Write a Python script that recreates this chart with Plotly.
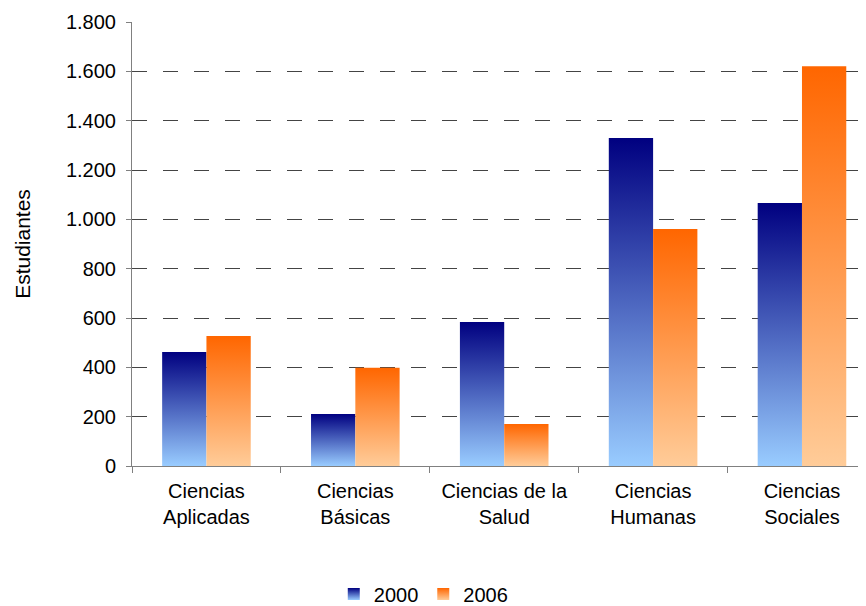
import plotly.graph_objects as go

categories = ["Ciencias<br>Aplicadas", "Ciencias<br>Básicas", "Ciencias de la<br>Salud",
              "Ciencias<br>Humanas", "Ciencias<br>Sociales"]
series_names = ["2000", "2006"]
values_2000 = [462, 211, 584, 1330, 1066]
values_2006 = [527, 398, 170, 961, 1621]
y_ticks = [0, 200, 400, 600, 800, 1000, 1200, 1400, 1600, 1800]

series = [
    ("2000", values_2000, "#000080", "#99CCFF"),
    ("2006", values_2006, "#FF6600", "#FFCC99"),
]

bargap = 0.405
bar_w = (1 - bargap) / 2

fig = go.Figure()
for j, (name, vals, top_c, bot_c) in enumerate(series):
    for i, v in enumerate(vals):
        x0 = i - 0.5 + bargap / 2 + j * bar_w
        x1 = x0 + bar_w
        fig.add_trace(go.Scatter(
            x=[x0, x0, x1, x1, x0], y=[0, v, v, 0, 0],
            mode="none", fill="toself",
            fillgradient=dict(type="vertical", colorscale=[[0, bot_c], [1, top_c]]),
            showlegend=False, hoverinfo="skip",
        ))
    fig.add_trace(go.Scatter(
        x=[None], y=[None], mode="markers", name=name,
        marker=dict(symbol="square", size=12, color=top_c,
                    gradient=dict(type="vertical", color=bot_c)),
    ))

# page body has an 8px margin, so the figure is sized/placed to compensate
fig.update_layout(
    width=858, height=598,
    paper_bgcolor="white", plot_bgcolor="white",
    margin=dict(l=124, r=0, t=14, b=140, autoexpand=False),
    separators=",.",
    font=dict(family="Liberation Sans, Arial, sans-serif", size=20, color="black"),
    showlegend=True,
    legend=dict(orientation="h", xref="container", x=0.484, xanchor="center",
                yref="container", y=0.02, yanchor="middle",
                font=dict(size=20), itemwidth=30, tracegroupgap=0),
)
fig.update_xaxes(
    range=[-0.5, 4.43], automargin=False,
    tickmode="array", tickvals=list(range(len(categories))), ticktext=categories,
    ticks="", showgrid=False, zeroline=False, ticklabelstandoff=7,
    showline=True, linecolor="#808080", linewidth=1,
    minor=dict(tickmode="array", tickvals=[k - 0.5 for k in range(len(categories) + 1)],
               ticks="outside", ticklen=6, tickcolor="#808080", showgrid=False),
)
fig.update_yaxes(
    range=[0, 1800], automargin=False,
    tickmode="array", tickvals=y_ticks, tickformat=",d",
    ticks="outside", ticklen=5, tickcolor="#808080", ticklabelstandoff=6,
    showline=True, linecolor="#808080", linewidth=1,
    showgrid=True, gridcolor="#444444", gridwidth=1, griddash="15px,16px",
    zeroline=False,
    title=dict(text="Estudiantes", font=dict(size=21), standoff=29),
)

fig.write_html("out.html")
